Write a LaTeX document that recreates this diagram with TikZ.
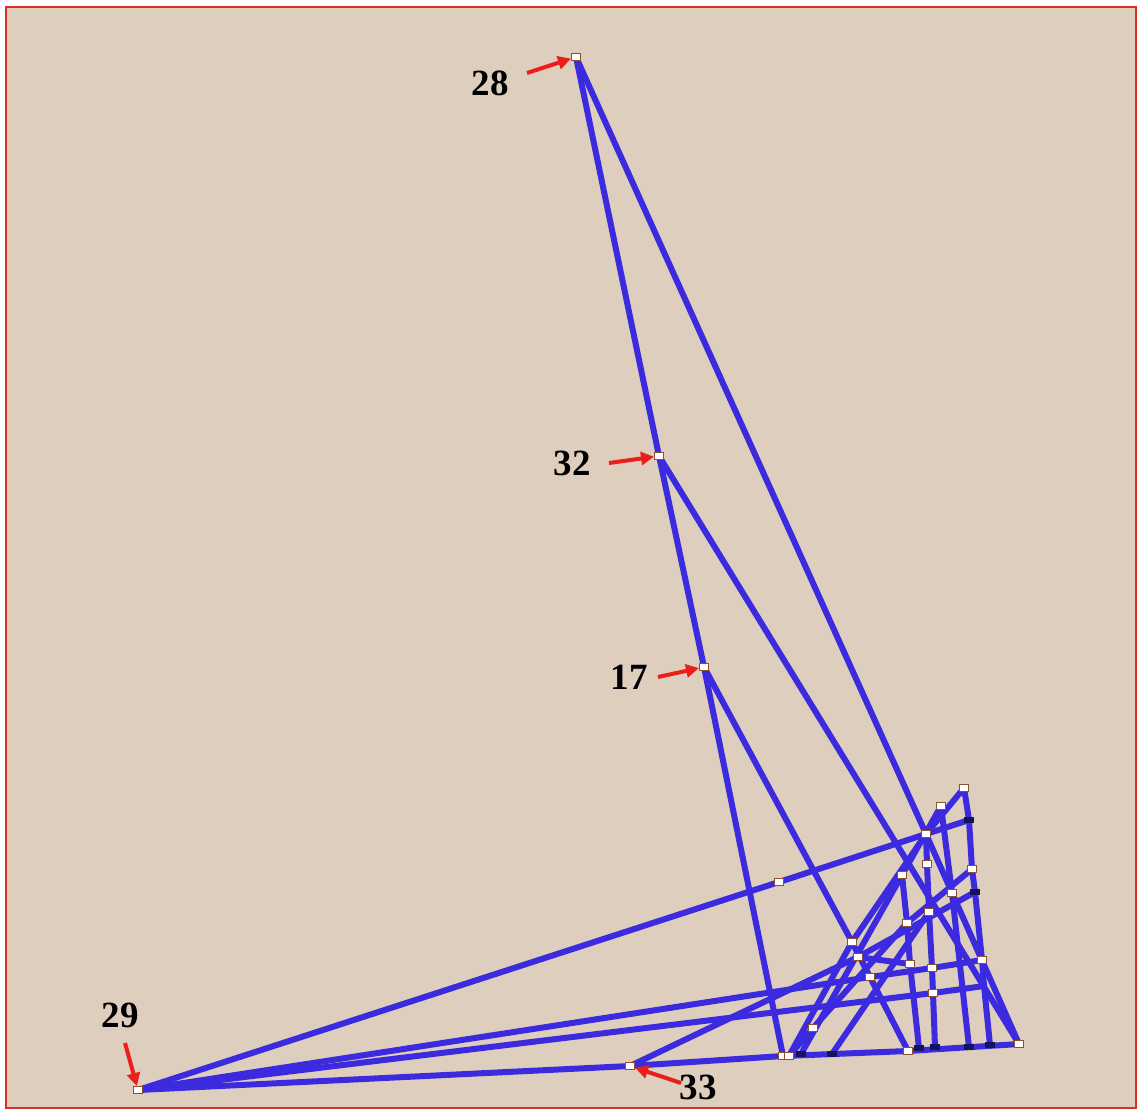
\documentclass[tikz,border=0pt]{standalone}
\usepackage{fontspec}
\setmainfont{Liberation Serif}
\usetikzlibrary{arrows.meta}
\definecolor{bgc}{RGB}{221,206,190}
\definecolor{framec}{RGB}{218,48,40}
\definecolor{barc}{RGB}{60,42,222}
\definecolor{mkc}{RGB}{140,80,50}
\definecolor{dkc}{RGB}{20,20,90}
\definecolor{arrc}{RGB}{235,30,25}
\begin{document}
\begin{tikzpicture}[x=1pt,y=-1pt,
  bar/.style={draw=barc,line width=6pt,line cap=round,line join=round},
  wmark/.style={rectangle,draw=mkc,fill=white,line width=1pt,minimum width=9pt,minimum height=7pt,inner sep=0pt},
  dmark/.style={rectangle,fill=dkc,minimum width=10pt,minimum height=6pt,inner sep=0pt},
  lab/.style={font=\bfseries\fontsize{37}{37}\selectfont,inner sep=0pt},
  redarr/.style={draw=arrc,line width=4pt,-{Triangle[length=13pt,width=13pt]}}]
\useasboundingbox (0,0) rectangle (1139,1111);
\fill[white] (0,0) rectangle (1139,1111);
\fill[bgc] (6,7) rectangle (1136,1108);
\draw[framec,line width=2.5pt] (6,7) rectangle (1136,1108);
% points
\coordinate (n28) at (576,57);
\coordinate (n32) at (659,456);
\coordinate (n17) at (704,667);
\coordinate (n29) at (138,1090);
\coordinate (n33) at (630,1066);
\coordinate (B1) at (783,1056);
\coordinate (B1b) at (789,1056);
\coordinate (B2) at (801,1054);
\coordinate (B3) at (832,1054);
\coordinate (B4) at (908,1051);
\coordinate (B5) at (919,1048);
\coordinate (B6) at (935,1047);
\coordinate (B7) at (969,1047);
\coordinate (B8) at (990,1045);
\coordinate (C) at (1019,1044);
\coordinate (T1) at (964,788);
\coordinate (T2) at (941,806);
\coordinate (A) at (926,834);
\coordinate (D1) at (969,820);
\coordinate (E1) at (927,864);
\coordinate (E2) at (902,875);
\coordinate (E3) at (972,869);
\coordinate (E4) at (952,893);
\coordinate (E5) at (975,892);
\coordinate (F1) at (929,912);
\coordinate (F2) at (907,923);
\coordinate (G1) at (852,942);
\coordinate (G2) at (858,957);
\coordinate (G3) at (870,977);
\coordinate (H1) at (910,964);
\coordinate (H2) at (932,968);
\coordinate (H3) at (982,960);
\coordinate (I1) at (933,993);
\coordinate (J1) at (813,1028);
\coordinate (K) at (984,986);
\coordinate (M1) at (779,882);
% members
\draw[bar] (n28) -- (n32) -- (n17) -- (B1);
\draw[bar] (n28) -- (A) -- (C);
\draw[bar] (n32) -- (C);
\draw[bar] (n17) -- (G1) -- (B4);
\draw[bar] (n29) -- (M1) -- (A) -- (D1);
\draw[bar] (n29) -- (n33) -- (B1) -- (B4) -- (C);
\draw[bar] (n33) -- (G2) -- (E5);
\draw[bar] (n29) -- (G3) -- (H2) -- (H3);
\draw[bar] (n29) -- (I1) -- (K);
\draw[bar] (T1) -- (D1) -- (E3) -- (E5) -- (H3) -- (K) -- (B8);
\draw[bar] (T2) -- (E4) -- (B7);
\draw[bar] (T1) -- (A) -- (G1) -- (B1b);
\draw[bar] (T2) -- (E2) -- (B2);
\draw[bar] (B1b) -- (J1) -- (F2) -- (E3);
\draw[bar] (A) -- (E1) -- (F1) -- (H2) -- (I1) -- (B6);
\draw[bar] (E2) -- (F2) -- (H1) -- (B5);
\draw[bar] (B3) -- (F1);
\draw[bar] (G2) -- (H1);
% joint markers
\foreach \p in {n28,n32,n17,n29,n33,B1,B1b,B4,C,T1,T2,A,E1,E2,E3,E4,F1,F2,G1,G2,G3,H1,H2,H3,I1,J1,M1}
  \node[wmark] (m\p) at (\p) {};
\foreach \p in {B2,B3,B5,B6,B7,B8,D1,E5}
  \node[dmark] (m\p) at (\p) {};
% labels
\node[lab] (l28) at (490,83) {28};
\node[lab] (l32) at (572,463) {32};
\node[lab] (l17) at (629,677) {17};
\node[lab] (l29) at (120,1015) {29};
\node[lab] (l33) at (698,1087) {33};
\coordinate (a28s) at (527,73);
\coordinate (a32s) at (609,463);
\coordinate (a17s) at (658,677);
\coordinate (a29s) at (125,1043);
\coordinate (a33s) at (681,1083);
\draw[redarr] (a28s) -- (mn28);
\draw[redarr] (a32s) -- (mn32);
\draw[redarr] (a17s) -- (mn17);
\draw[redarr] (a29s) -- (mn29);
\draw[redarr] (a33s) -- (mn33);
\end{tikzpicture}
\end{document}
